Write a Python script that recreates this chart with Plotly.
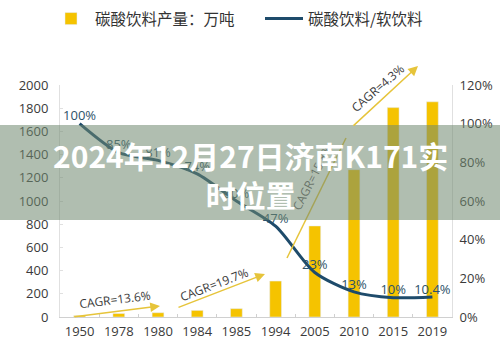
import plotly.graph_objects as go

# ---------------- data ----------------
years = ["1950", "1978", "1980", "1984", "1985", "1994", "2005", "2010", "2015", "2019"]
production = [12, 30, 37, 57, 72, 310, 785, 1270, 1805, 1855]          # 碳酸饮料产量：万吨
share = [100, 85, 81, 74, 60, 47, 23, 13, 10, 10.4]                  # 碳酸饮料/软饮料 (%)
share_labels = ["100%", "85%", "81%", "74%", "60%", "47%", "23%", "13%", "10%", "10.4%"]
left_ticks = [0, 200, 400, 600, 800, 1000, 1200, 1400, 1600, 1800, 2000]
right_ticks = [0, 20, 40, 60, 80, 100, 120]
right_tick_text = ["0%", "20%", "40%", "60%", "80%", "100%", "120%"]
cagr_labels = ["CAGR=13.6%", "CAGR=19.7%", "CAGR=15.8%", "CAGR=4.3%"]
bar_name = "碳酸饮料产量：万吨"
line_name = "碳酸饮料/软饮料"
title_text = "<b>2024年12月27日济南K171实<br>时位置</b>"

# ---------------- geometry helpers ----------------
W, H = 500, 347
L, R, T, B = 60, 48, 85, 30
PW, PH = W - L - R, H - T - B


def px(x):
    return (x - L) / PW


def py(y):
    return (H - B - y) / PH


BAR = "#F5C300"
LINE = "#1E4B6B"
ARROW = "#E6C43A"
TXT = "#3a3a3a"
FONT = "Open Sans"
CJK = "Noto Sans CJK SC"

fig = go.Figure()
fig.add_trace(go.Bar(
    x=years, y=production, name=bar_name, marker_color=BAR, width=0.3,
    yaxis="y",
))
fig.add_trace(go.Scatter(
    x=years, y=share, name=line_name, yaxis="y2",
    mode="lines+text", text=share_labels, textposition="top center",
    textfont=dict(family=FONT, size=13, color="#2C5269"),
    line=dict(color=LINE, width=3, shape="spline", smoothing=0.75),
    cliponaxis=False,
))

# arrows (head position in paper coords, tail offset in px)
arrows = [((160, 306), (73, 317)), ((265, 274), (177, 308)), ((418, 66), (352, 127))]
annotations = []
for (hx, hy), (tx, ty) in arrows:
    annotations.append(dict(
        x=px(hx), y=py(hy), xref="paper", yref="paper", text="",
        showarrow=True, ax=tx - hx, ay=ty - hy, arrowcolor=ARROW,
        arrowwidth=1.5, arrowhead=2, arrowsize=1.3, standoff=0, startstandoff=0,
    ))

text_pos = [((115, 299), -7, TXT), ((214, 284), -21, TXT),
            ((312, 177), -63, "rgba(80,90,80,0.75)"), ((377, 88), -41, TXT)]
for lab, ((cx, cy), ang, col) in zip(cagr_labels, text_pos):
    annotations.append(dict(
        x=px(cx), y=py(cy), xref="paper", yref="paper", text=lab,
        showarrow=False, textangle=ang, font=dict(family=FONT, size=12, color=col),
        xanchor="center", yanchor="middle",
    ))

annotations.append(dict(
    x=px(250), y=py(174), xref="paper", yref="paper", text=title_text,
    showarrow=False, font=dict(family=CJK, size=30, color="white"),
    xanchor="center", yanchor="middle", align="center",
))

shapes = [
    dict(type="line", xref="paper", yref="paper", x0=px(287), y0=py(258),
         x1=px(346), y1=py(138), line=dict(color=ARROW, width=1.5), layer="above"),
    dict(type="rect", xref="paper", yref="paper", x0=px(0), x1=px(W),
         y0=py(220), y1=py(125), fillcolor="rgba(112,136,112,0.55)",
         line=dict(width=0), layer="above"),
]

fig.update_layout(
    width=W, height=H,
    margin=dict(l=L, r=R, t=T, b=B, pad=0, autoexpand=False),
    paper_bgcolor="white", plot_bgcolor="white",
    showlegend=True,
    legend=dict(orientation="h", x=px(47), y=py(19), xanchor="left", yanchor="middle",
                font=dict(family=CJK, size=15.5, color="#333"), entrywidth=160,
                itemwidth=38, bgcolor="rgba(0,0,0,0)"),
    xaxis=dict(type="category", categoryorder="array", categoryarray=years,
               showgrid=False, showline=True, linecolor="#d0d0d0", linewidth=1,
               ticks="inside", tickson="boundaries", ticklen=3, tickcolor="#d0d0d0",
               tickangle=0, automargin=False, ticklabelstandoff=2,
               tickfont=dict(family=FONT, size=13, color=TXT), fixedrange=True),
    yaxis=dict(range=[0, 2000], tickvals=left_ticks, showgrid=False, zeroline=False,
               showline=True, linecolor="#e0e0e0", ticks="inside", ticklen=3,
               tickcolor="#e0e0e0", tickfont=dict(family=FONT, size=13, color=TXT),
               ticklabelstandoff=8, automargin=False),
    yaxis2=dict(range=[0, 120], tickvals=right_ticks, ticktext=right_tick_text,
                overlaying="y", side="right", showgrid=False, zeroline=False,
                showline=True, linecolor="#e0e0e0", ticks="", automargin=False,
                tickfont=dict(family=FONT, size=13, color=TXT), ticklabelstandoff=4),
    annotations=annotations,
    shapes=shapes,
    bargap=0.7,
)

fig.write_html("out.html")
